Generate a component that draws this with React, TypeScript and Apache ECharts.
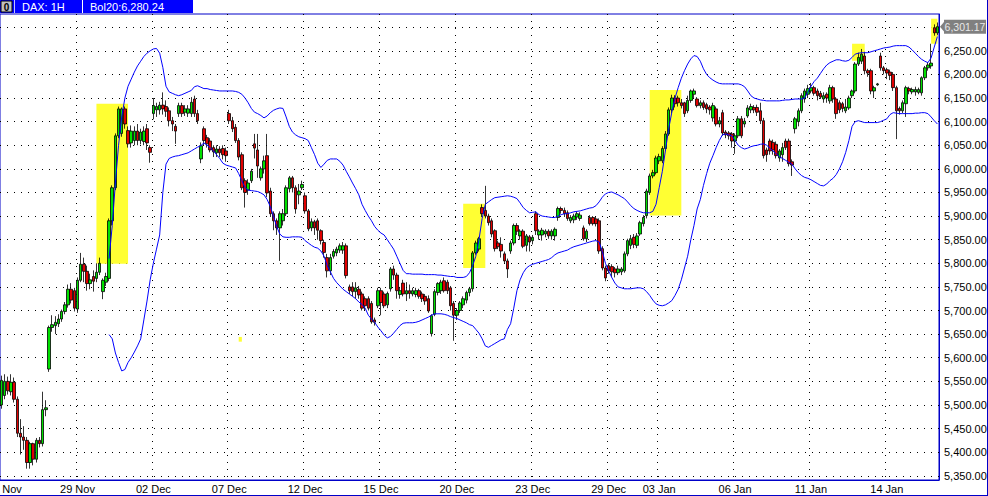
import React, { useEffect, useRef } from 'react';
import * as echarts from 'echarts';

// OHLC bars as [open, close, low, high]
const barsNov: number[][] = [
  [5500,5552,5492,5562],[5520,5550,5512,5565],[5550,5530,5522,5560],[5528,5548,5520,5565],
  [5548,5512,5505,5558],[5512,5440,5432,5518],[5440,5432,5395,5470],[5432,5425,5405,5455],
  [5425,5378,5365,5432],[5378,5418,5365,5422],[5418,5385,5372,5420],[5385,5425,5378,5430],
  [5425,5418,5410,5432],[5418,5490,5412,5528],[5490,5494,5476,5510],
];
const barsLateNov: number[][] = [
  [5576,5664,5570,5668],[5664,5670,5655,5690],[5668,5675,5650,5688],[5672,5682,5665,5692],
  [5682,5698,5676,5702],[5698,5712,5692,5718],[5712,5745,5706,5755],[5745,5722,5715,5758],
  [5742,5705,5698,5748],[5703,5764,5695,5770],[5764,5798,5760,5822],[5798,5783,5760,5812],
  [5783,5757,5742,5795],[5757,5765,5745,5778],[5772,5762,5740,5785],[5768,5781,5760,5800],
  [5781,5800,5775,5812],[5740,5764,5724,5768],[5760,5772,5752,5780],[5768,5890,5762,5895],
  [5890,5960,5880,5965],[5960,6070,5955,6075],[6070,6127,6065,6132],[6075,6127,6068,6130],
  [6127,6095,6085,6132],[6081,6053,6045,6090],[6055,6080,6045,6092],[6060,6080,6050,6090],
  [6080,6060,6050,6095],[6060,6078,6052,6085],[6058,6080,6050,6090],[6085,6055,6040,6095],
  [6045,6035,6013,6050],
];
const barsEarlyDec: number[][] = [
  [6117,6134,6105,6150],[6125,6132,6110,6140],[6125,6135,6115,6142],[6135,6127,6115,6162],
  [6132,6122,6110,6145],[6123,6102,6090,6130],[6102,6095,6080,6110],[6090,6080,6053,6095],
  [6117,6134,6110,6140],[6134,6117,6110,6140],[6120,6127,6112,6135],[6118,6127,6110,6135],
  [6117,6141,6110,6152],[6148,6117,6110,6155],[6117,6102,6095,6125],[6021,6049,6012,6056],
  [6085,6060,6050,6090],[6066,6053,6045,6072],[6059,6040,6035,6065],[6045,6036,6025,6050],
  [6034,6042,6025,6050],[6042,6034,6025,6048],[6043,6030,6020,6050],[6038,6028,6015,6045],
  [6117,6102,6095,6125],[6102,6085,6078,6110],[6088,6060,6055,6095],[6060,6025,6018,6065],
  [6030,5960,5955,6035],[5975,5950,5918,5980],[5955,5970,5945,5978],[5975,5995,5970,6000],
  [6053,6044,6022,6074],[6040,6006,5981,6074],[5981,6000,5975,6005],[6000,6017,5990,6028],
  [6028,5949,5940,6074],[5953,5905,5898,5960],[5905,5890,5870,5910],[5890,5875,5860,5895],
  [5875,5905,5805,5910],[5890,5905,5880,5915],[5905,5960,5900,5965],[5958,5981,5950,5985],
  [5981,5960,5950,5985],[5960,5915,5905,5965],[5945,5953,5925,5968],[5960,5967,5955,5975],
];
const barsMidDec: number[][] = [
  [5943,5911,5905,5950],[5911,5873,5868,5915],[5875,5888,5868,5895],[5888,5875,5860,5892],
  [5890,5870,5850,5895],[5869,5848,5840,5872],[5844,5823,5812,5850],[5812,5784,5770,5820],
  [5784,5812,5775,5820],[5815,5825,5810,5830],[5822,5830,5815,5835],[5828,5837,5822,5842],
  [5828,5837,5820,5845],[5837,5774,5768,5842],[5750,5742,5735,5755],[5750,5740,5730,5760],
  [5740,5748,5725,5760],[5745,5733,5725,5752],[5735,5705,5700,5740],[5725,5710,5700,5730],
  [5725,5705,5700,5730],[5715,5676,5672,5720],[5680,5675,5668,5685],[5710,5742,5705,5748],
  [5742,5717,5690,5748],[5735,5710,5705,5740],[5712,5736,5705,5740],[5746,5788,5740,5792],
  [5788,5775,5765,5795],[5775,5742,5725,5780],[5734,5742,5725,5750],[5758,5735,5730,5765],
  [5735,5742,5720,5760],[5742,5736,5725,5755],[5735,5742,5730,5748],[5734,5742,5728,5748],
  [5742,5730,5725,5746],[5735,5725,5718,5740],[5730,5720,5712,5735],[5725,5699,5695,5732],
  [5651,5689,5645,5692],[5692,5740,5688,5745],[5738,5757,5732,5760],[5742,5760,5735,5765],
  [5763,5742,5738,5770],[5760,5742,5735,5765],[5748,5710,5700,5752],[5715,5690,5636,5720],
];
const barsLateDec: number[][] = [
  [5690,5700,5680,5705],[5700,5716,5695,5720],[5712,5725,5705,5730],[5722,5738,5715,5742],
  [5738,5746,5730,5750],[5746,5822,5740,5826],[5822,5843,5818,5848],[5830,5852,5825,5856],
  [5918,5905,5898,5925],[5912,5900,5895,5964],[5900,5886,5880,5905],[5890,5862,5855,5895],
  [5869,5831,5825,5872],[5843,5835,5830,5848],[5840,5826,5812,5855],[5820,5805,5800,5825],
  [5805,5788,5769,5810],[5826,5843,5820,5848],[5843,5880,5838,5884],[5880,5868,5860,5885],
  [5858,5868,5850,5872],[5868,5836,5832,5872],[5838,5858,5825,5862],[5856,5845,5825,5860],
  [5848,5855,5840,5860],[5905,5869,5860,5910],[5860,5868,5850,5872],[5860,5870,5848,5875],
  [5862,5868,5855,5872],[5868,5858,5852,5872],[5858,5868,5850,5872],[5858,5872,5848,5876],
  [5897,5916,5890,5920],[5916,5912,5905,5920],[5912,5905,5898,5918],[5907,5895,5890,5912],
  [5890,5897,5885,5902],[5892,5900,5885,5905],[5898,5905,5892,5910],[5895,5902,5890,5908],
  [5875,5852,5848,5880],[5852,5868,5845,5872],[5897,5884,5880,5902],[5897,5884,5880,5900],
  [5894,5884,5878,5898],[5890,5826,5820,5895],[5831,5790,5785,5836],[5790,5769,5762,5795],
];
const barsNewYear: number[][] = [
  [5795,5784,5778,5800],[5793,5782,5770,5798],[5788,5780,5770,5792],[5780,5788,5775,5795],
  [5782,5788,5775,5792],[5784,5820,5780,5825],[5820,5848,5815,5852],[5838,5852,5830,5860],
  [5855,5840,5832,5862],[5838,5858,5832,5864],[5862,5886,5858,5890],[5884,5897,5878,5902],
  [5901,5953,5895,5958],[5950,5985,5945,5990],[5985,5992,5980,5998],[5992,6023,5988,6028],
  [6017,6026,6010,6032],[6017,6043,6012,6048],[6043,6074,6038,6080],[6074,6125,6070,6130],
  [6125,6150,6118,6157],[6150,6138,6130,6156],[6150,6140,6132,6155],[6140,6134,6128,6148],
  [6140,6117,6110,6142],[6123,6145,6118,6155],[6145,6165,6140,6168],[6158,6165,6150,6170],
  [6148,6134,6130,6152],[6134,6140,6128,6145],[6140,6130,6125,6145],[6136,6127,6118,6140],
  [6131,6125,6115,6135],[6108,6134,6100,6140],[6127,6095,6090,6132],[6095,6102,6088,6110],
  [6119,6076,6070,6125],[6078,6072,6065,6082],[6076,6070,6062,6080],[6074,6059,6045,6078],
];
const barsEarlyJan: number[][] = [
  [6059,6070,6032,6075],[6070,6106,6065,6112],[6106,6070,6065,6112],[6095,6101,6088,6108],
  [6112,6129,6108,6135],[6125,6132,6118,6138],[6130,6125,6118,6135],[6130,6120,6112,6136],
  [6123,6102,6095,6140],[6102,6028,6022,6108],[6040,6030,6015,6045],[6059,6038,6030,6064],
  [6056,6040,6030,6062],[6052,6028,6022,6058],[6023,6038,6015,6042],[6030,6045,6015,6055],
  [6059,6045,6040,6064],[6059,6011,6005,6064],[6015,6008,5985,6020],[6085,6106,6075,6110],
  [6100,6123,6090,6128],[6123,6155,6118,6160],[6148,6165,6140,6170],[6158,6170,6150,6178],
  [6165,6172,6160,6182],[6172,6160,6155,6176],[6165,6155,6145,6170],[6160,6152,6148,6165],
  [6148,6155,6140,6162],[6158,6150,6140,6162],
];
const barsMidJan: number[][] = [
  [6144,6172,6138,6178],[6172,6148,6140,6176],[6148,6117,6106,6152],[6140,6125,6118,6145],
  [6138,6128,6120,6142],[6123,6131,6118,6148],[6129,6150,6125,6155],[6155,6165,6150,6168],
  [6165,6222,6160,6226],[6222,6236,6218,6246],[6228,6243,6222,6254],[6239,6208,6200,6248],
  [6208,6203,6195,6212],[6208,6165,6158,6212],[6165,6172,6150,6176],[6178,6180,6176,6182],
  [6239,6214,6208,6246],[6214,6208,6200,6218],[6210,6203,6190,6214],[6205,6198,6188,6210],
  [6200,6172,6165,6205],[6172,6123,6063,6176],[6128,6123,6115,6132],[6123,6140,6118,6145],
  [6138,6172,6110,6176],[6170,6165,6158,6174],[6163,6168,6158,6172],[6163,6168,6155,6174],
  [6162,6168,6158,6172],[6161,6193,6155,6196],[6193,6214,6188,6218],[6214,6220,6208,6226],
  [6218,6224,6212,6265],[6299,6288,6282,6306],[6288,6301.17,6283,6310],
];

// Bollinger(20) bands, first value belongs to bar index bandStart
const bandStart = 34;
const upperBand: number[] = [
  5810,5880,5970,6050,6110,6150,6175,6190,6205,6218,6228,6238,6245,6250,6254,6255,6245,6215,6175,6163,
  6160,6157,6155,6157,6160,6163,6166,6174,6176,6173,6170,6170,6168,6167,6166,6165,6165,6165,6165,6165,
  6164,6162,6158,6150,6140,6128,6120,6117,6113,6108,6112,6119,6124,6127,6129,6128,6110,6090,6078,6072,
  6068,6066,6064,6060,6045,6030,6012,6003,6010,6018,6021,6021,6021,6016,6008,5995,5983,5970,5958,5945,
  5925,5912,5900,5890,5878,5870,5864,5860,5850,5840,5830,5815,5800,5785,5778,5778,5777,5777,5777,5777,
  5776,5776,5776,5776,5775,5775,5774,5773,5772,5772,5770,5770,5770,5772,5780,5795,5815,5850,5895,5925,
  5930,5935,5939,5940,5941,5942,5943,5942,5940,5937,5928,5918,5912,5907,5908,5909,5903,5900,5899,5898,
  5897,5897,5900,5903,5905,5905,5907,5909,5910,5911,5913,5915,5917,5918,5922,5930,5940,5947,5950,5951,
  5948,5945,5941,5937,5930,5922,5916,5912,5909,5907,5907,5907,5910,5925,5960,5995,6040,6085,6120,6150,
  6172,6192,6208,6222,6233,6240,6238,6228,6212,6200,6193,6188,6184,6181,6180,6180,6180,6180,6180,6180,
  6178,6174,6165,6155,6150,6148,6146,6145,6144,6144,6144,6144,6144,6145,6146,6146,6147,6148,6148,6148,
  6150,6162,6175,6185,6192,6202,6212,6220,6225,6228,6231,6231,6229,6228,6230,6236,6243,6245,6246,6246,
  6246,6248,6250,6252,6254,6256,6257,6258,6260,6261,6261,6261,6261,6258,6252,6245,6238,6232,6228,6225,
  6235,6258,6280.24,
];
const lowerBand: number[] = [
  5649,5640,5610,5590,5572,5575,5590,5600,5612,5625,5640,5680,5720,5765,5800,5830,5860,5950,6010,6022,
  6025,6027,6028,6030,6032,6034,6038,6042,6046,6049,6055,6050,6045,6038,6030,6022,6012,6008,6006,6004,
  6002,5990,5975,5960,5955,5954,5953,5952,5949,5945,5935,5920,5900,5878,5862,5856,5855,5855,5856,5856,
  5856,5855,5848,5843,5838,5834,5832,5826,5815,5795,5782,5768,5759,5752,5745,5740,5735,5730,5725,5718,
  5713,5705,5690,5682,5675,5665,5657,5648,5642,5645,5652,5660,5668,5673,5674,5674,5674,5675,5677,5680,
  5683,5686,5690,5693,5693,5693,5692,5690,5687,5685,5683,5680,5677,5674,5670,5668,5660,5652,5640,5625,
  5622,5626,5630,5634,5638,5640,5660,5672,5705,5742,5765,5780,5790,5795,5798,5800,5802,5804,5806,5808,
  5812,5818,5822,5824,5826,5828,5832,5835,5837,5839,5841,5843,5845,5847,5848,5845,5825,5800,5784,5770,
  5758,5750,5748,5746,5746,5746,5747,5748,5748,5746,5740,5732,5722,5714,5711,5710,5712,5716,5721,5732,
  5745,5765,5790,5815,5850,5880,5915,5935,5965,5990,6012,6028,6045,6060,6072,6074,6072,6070,6060,6050,
  6045,6042,6044,6047,6049,6050,6052,6053,6050,6044,6038,6032,6026,6022,6018,6014,6010,6000,5992,5986,
  5982,5980,5977,5973,5969,5965,5964,5968,5975,5980,5988,6000,6015,6035,6060,6090,6100,6102,6100,6098,
  6098,6098,6098,6098,6100,6103,6106,6115,6119,6118,6117,6117,6117,6117,6117,6118,6118,6119,6119,6117,
  6110,6102,6095,
];

// date labels on the time axis (bar index -> text); the first one is cut by the left edge in the original
const dateIndex = [0, 24, 48, 72, 96, 120, 144, 168, 192, 208, 232, 256, 280];
const dateText = ['Nov', '29 Nov', '02 Dec', '07 Dec', '12 Dec', '15 Dec', '20 Dec', '23 Dec', '29 Dec', '03 Jan', '06 Jan', '11 Jan', '14 Jan'];

// price axis
const priceLabels = [5350, 5400, 5450, 5500, 5550, 5600, 5650, 5700, 5750, 5800, 5850, 5900, 5950, 6000, 6050, 6100, 6150, 6200, 6250];
const priceGrid = [...priceLabels, 6300];

// highlighted zones: [fromBar, toBar, highPrice, lowPrice]
const zones: number[][] = [
  [30, 40, 6138, 5799],
  [146, 153, 5926, 5790],
  [205, 215, 6167, 5901],
  [269, 273, 6265, 6229],
  [294, 296, 6318, 6265],
  [75, 76, 5644, 5634],
];

const FONT = 'Liberation Sans';
const BORDER = '#0000c8';
const fmt2 = (v: number) => v.toLocaleString('en-US', { minimumFractionDigits: 2, maximumFractionDigits: 2 });

export default function App() {
  const ref = useRef<HTMLDivElement>(null);
  useEffect(() => {
    const candles = [...barsNov, ...barsLateNov, ...barsEarlyDec, ...barsMidDec, ...barsLateDec, ...barsNewYear, ...barsEarlyJan, ...barsMidJan];
    const n = candles.length;
    const cats = candles.map((_, i) => String(i));
    const pad = (arr: number[]) => cats.map((_, i) => (i >= bandStart ? arr[i - bandStart] : null));
    const upper = pad(upperBand);
    const lower = pad(lowerBand);
    const labelMap: Record<number, string> = {};
    dateIndex.forEach((idx, k) => { labelMap[idx] = dateText[k]; });
    const lastClose = candles[n - 1][1];
    const lastUpper = upperBand[upperBand.length - 1];

    const baseGraphic: any[] = [
      { id: 'hdr', type: 'rect', z: 100, shape: { x: 0, y: 0, width: 193, height: 13 }, style: { fill: '#0000ff' } },
      { id: 'ico', type: 'rect', z: 101, shape: { x: 1, y: 1, width: 11, height: 11 }, style: { fill: '#c0c0c0', stroke: '#000', lineWidth: 1 } },
      { id: 'icoT', type: 'text', z: 102, x: 6.5, y: 7, style: { text: '0', fill: '#000', font: 'bold 10px Liberation Sans', align: 'center', verticalAlign: 'middle' } },
      { id: 'sep1', type: 'line', z: 101, shape: { x1: 14.5, y1: 0, x2: 14.5, y2: 13 }, style: { stroke: '#c0c0ff', lineWidth: 1 } },
      { id: 'sep2', type: 'line', z: 101, shape: { x1: 82.5, y1: 0, x2: 82.5, y2: 13 }, style: { stroke: '#ffffff', lineWidth: 1 } },
      { id: 'sym', type: 'text', z: 102, x: 22, y: 7, style: { text: 'DAX: 1H', fill: '#ffffff', font: '11px Liberation Sans', verticalAlign: 'middle' } },
      { id: 'bol', type: 'text', z: 102, x: 90, y: 7, style: { text: 'Bol20:' + fmt2(lastUpper), fill: '#ffffff', font: '11px Liberation Sans', verticalAlign: 'middle' } },
      { id: 'bot', type: 'line', z: 101, shape: { x1: 0, y1: 495.5, x2: 988, y2: 495.5 }, style: { stroke: BORDER, lineWidth: 1 } },
      { id: 'rgt', type: 'line', z: 101, shape: { x1: 987.5, y1: 0, x2: 987.5, y2: 496 }, style: { stroke: BORDER, lineWidth: 1 } },
    ];

    const chart = echarts.init(ref.current!, null, { renderer: 'svg' });
    chart.setOption({
      animation: false,
      backgroundColor: '#ffffff',
      textStyle: { fontFamily: FONT },
      grid: {
        left: 0, right: 49, top: 14, bottom: 16,
        containLabel: false, outerBoundsMode: 'none',
        show: true, borderColor: BORDER, borderWidth: 1, backgroundColor: '#ffffff',
      },
      xAxis: {
        type: 'category',
        data: cats,
        boundaryGap: true,
        axisLine: { show: true, lineStyle: { color: BORDER, width: 1 } },
        axisTick: { show: false },
        axisLabel: {
          interval: (i: number) => labelMap[i] !== undefined,
          formatter: (_v: string, i: number) => (i === 0 ? '{first|' + labelMap[0] + '}' : labelMap[i] ?? ''),
          rich: { first: { padding: [0, 0, 0, 21], fontSize: 11, fontFamily: FONT, color: '#000' } },
          color: '#000', fontSize: 11, fontFamily: FONT, margin: 3, hideOverlap: false,
        },
        splitLine: {
          show: true,
          interval: (i: number) => labelMap[i] !== undefined && i > 0,
          lineStyle: { color: '#000', width: 1, type: [1, 6] },
        },
      },
      yAxis: {
        type: 'value',
        position: 'right',
        min: 5341,
        max: 6328,
        axisLine: { show: true, onZero: false, lineStyle: { color: BORDER, width: 1 } },
        axisTick: { show: false, customValues: priceGrid },
        axisLabel: {
          customValues: priceLabels,
          formatter: (v: number) => fmt2(v),
          color: '#000', fontSize: 11, fontFamily: FONT, margin: 5,
        },
        splitLine: { show: true, lineStyle: { color: '#000', width: 1, type: [1, 6] } },
      },
      series: [
        {
          type: 'candlestick',
          data: candles,
          barWidth: 3,
          z: 2,
          itemStyle: {
            color: '#00e000', color0: '#e00000',
            borderColor: '#000', borderColor0: '#000', borderWidth: 0.8,
          },
          markArea: {
            silent: true,
            itemStyle: { color: '#ffff33', opacity: 1 },
            data: zones.map((z) => [
              { xAxis: z[0], yAxis: z[2] },
              { xAxis: z[1], yAxis: z[3] },
            ]),
          },
        },
        {
          type: 'line', data: upper, symbol: 'none', z: 4, silent: true,
          lineStyle: { color: '#0000ff', width: 1 },
        },
        {
          type: 'line', data: lower, symbol: 'none', z: 4, silent: true,
          lineStyle: { color: '#0000ff', width: 1 },
        },
      ],
      graphic: baseGraphic,
    });

    // current-price marker placed through the price axis scale
    const py = chart.convertToPixel({ yAxisIndex: 0 }, lastClose) as number;
    const ax = 940;
    chart.setOption({
      graphic: [
        ...baseGraphic,
        { id: 'pxTri', type: 'polygon', z: 110, shape: { points: [[ax, py], [ax + 5, py - 6], [ax + 5, py + 6]] }, style: { fill: '#808080' } },
        { id: 'pxBox', type: 'rect', z: 110, shape: { x: ax + 4, y: py - 7, width: 42, height: 14 }, style: { fill: '#808080' } },
        { id: 'pxTxt', type: 'text', z: 111, x: ax + 25, y: py, style: { text: fmt2(lastClose), fill: '#e8e8e8', font: '10.5px Liberation Sans', align: 'center', verticalAlign: 'middle' } },
      ],
    });
    return () => chart.dispose();
  }, []);
  return <div ref={ref} style={{ position: 'fixed', left: 0, top: 0, width: 988, height: 496, background: '#fff' }} />;
}
